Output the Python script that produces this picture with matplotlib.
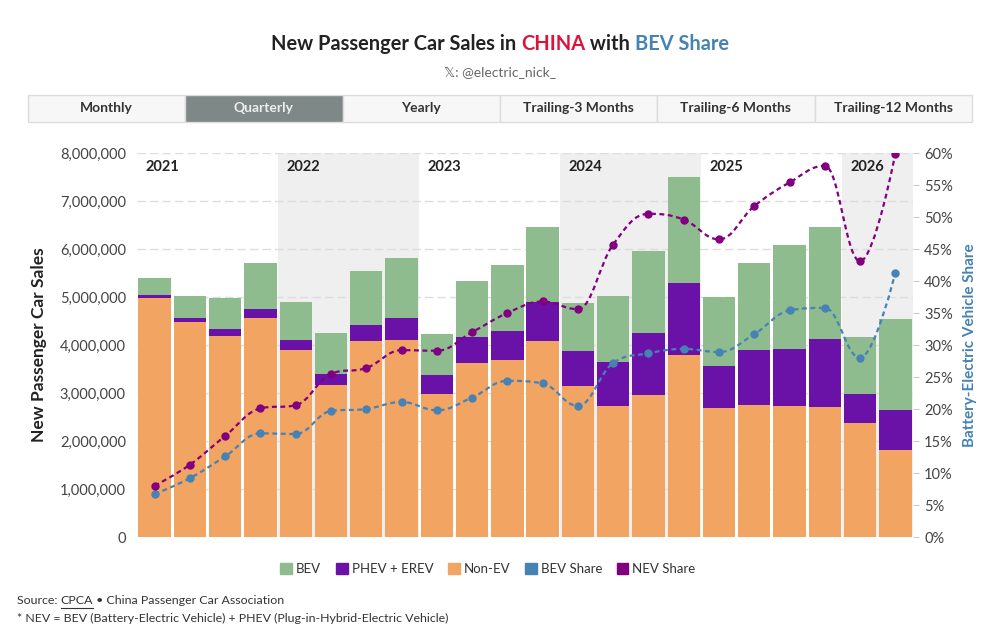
import matplotlib.pyplot as plt
from matplotlib.patches import Patch, Rectangle, PathPatch
from matplotlib.path import Path
from matplotlib.lines import Line2D
from matplotlib.ticker import FuncFormatter, MultipleLocator

plt.rcParams['font.family'] = ['Lato', 'DejaVu Sans']

# quarterly sales (units)
years = ['2021', '2022', '2023', '2024', '2025', '2026']
quarters_per_year = [4, 4, 4, 4, 4, 2]

non_ev = [4970000, 4470000, 4190000, 4560000, 3890000, 3170000, 4080000, 4110000,
          2990000, 3620000, 3690000, 4090000, 3140000, 2720000, 2950000, 3790000,
          2680000, 2760000, 2720000, 2710000, 2370000, 1810000]
phev = [70000, 90000, 140000, 200000, 210000, 230000, 340000, 460000,
        390000, 540000, 600000, 810000, 735000, 920000, 1290000, 1500000,
        880000, 1140000, 1200000, 1420000, 620000, 840000]
bev = [360000, 460000, 640000, 940000, 800000, 860000, 1120000, 1240000,
       850000, 1170000, 1380000, 1560000, 1005000, 1380000, 1710000, 2220000,
       1450000, 1800000, 2160000, 2320000, 1180000, 1890000]

# shares (%)
bev_share = [6.7, 9.2, 12.6, 16.2, 16.1, 19.7, 20.0, 21.1, 19.8, 21.8, 24.4, 24.0,
             20.5, 27.2, 28.7, 29.4, 28.9, 31.7, 35.4, 35.8, 28.0, 41.3]
nev_share = [8.0, 11.3, 15.8, 20.1, 20.6, 25.5, 26.4, 29.2, 29.1, 32.0, 35.0, 36.8,
             35.6, 45.7, 50.5, 49.6, 46.5, 51.7, 55.4, 58.0, 43.1, 59.9]

c_bev = '#8fbc8f'
c_phev = '#6a12a8'
c_ice = '#f2a462'
c_bev_line = '#4682b4'
c_nev_line = '#800080'


def spline_path(xs, ys, s=1.5):
    n = len(xs)
    lc = [None] * n
    rc = [None] * n
    for i in range(1, n - 1):
        x, y = xs[i], ys[i]
        px, py = xs[i - 1], ys[i - 1]
        nx, ny = xs[i + 1], ys[i + 1]
        lx, ly = (s * x + px) / (s + 1), (s * y + py) / (s + 1)
        rx, ry = (s * x + nx) / (s + 1), (s * y + ny) / (s + 1)
        corr = (ry - ly) * (rx - x) / (rx - lx) + y - ry
        ly += corr
        ry += corr
        if ly > py and ly > y:
            ly = max(py, y); ry = 2 * y - ly
        elif ly < py and ly < y:
            ly = min(py, y); ry = 2 * y - ly
        if ry > ny and ry > y:
            ry = max(ny, y); ly = 2 * y - ry
        elif ry < ny and ry < y:
            ry = min(ny, y); ly = 2 * y - ry
        lc[i] = (lx, ly)
        rc[i] = (rx, ry)
    verts = [(xs[0], ys[0])]
    codes = [Path.MOVETO]
    for i in range(1, n):
        verts += [rc[i - 1] or (xs[i - 1], ys[i - 1]), lc[i] or (xs[i], ys[i]), (xs[i], ys[i])]
        codes += [Path.CURVE4] * 3
    return Path(verts, codes)


fig = plt.figure(figsize=(10, 6.41), dpi=100)
ax = fig.add_axes([0.137, 0.1622, 0.776, 0.5991])
ax2 = ax.twinx()

x = list(range(len(non_ev)))
n = len(x)
ax.set_xlim(-0.5, n - 0.5)
ax.set_ylim(0, 8000000)
ax2.set_ylim(0, 60)

# year bands
start = 0
for i, (yr, q) in enumerate(zip(years, quarters_per_year)):
    if i % 2 == 1:
        ax.axvspan(start - 0.5, start + q - 0.5, color='#efefef', zorder=0, lw=0)
    ax.text(start - 0.27, 7710000, yr, fontsize=10.5, fontweight='bold', color='#222',
            ha='left', va='center', zorder=5)
    start += q

ax.yaxis.set_major_locator(MultipleLocator(1000000))
ax.grid(axis='y', color='#dddddd', linestyle=(0, (6, 3)), lw=1, zorder=1)
ax.set_axisbelow(True)

w = 0.92
ax.bar(x, non_ev, width=w, color=c_ice, zorder=2, lw=0)
ax.bar(x, phev, width=w, bottom=non_ev, color=c_phev, zorder=2, lw=0)
ax.bar(x, bev, width=w, bottom=[a + b for a, b in zip(non_ev, phev)], color=c_bev, zorder=2, lw=0)

for ys, col in [(bev_share, c_bev_line), (nev_share, c_nev_line)]:
    ax2.add_patch(PathPatch(spline_path(x, ys), fill=False, edgecolor=col, lw=1.6,
                            linestyle=(0, (2.2, 1.6)), zorder=4))
    ax2.plot(x, ys, 'o', color=col, markersize=5, linestyle='none', zorder=5)

ax.yaxis.set_major_formatter(FuncFormatter(lambda v, p: f'{v:,.0f}'))
ax2.yaxis.set_major_locator(MultipleLocator(5))
ax2.yaxis.set_major_formatter(FuncFormatter(lambda v, p: f'{v:.0f}%'))
ax.set_xticks([])
for a in (ax, ax2):
    for sp in a.spines.values():
        sp.set_visible(False)
ax.tick_params(axis='y', length=0, labelsize=10.5, labelcolor='#444', pad=8)
ax2.tick_params(axis='y', length=4, color='#cccccc', labelsize=10.5, labelcolor='#444', pad=4)

ax.set_ylabel('New Passenger Car Sales', fontsize=12.5, fontweight='bold', color='#222', labelpad=9)
ax2.set_ylabel('Battery-Electric Vehicle Share', fontsize=11, fontweight='bold',
               color=c_bev_line, labelpad=7)

# legend
handles = [Patch(color=c_bev, label='BEV'), Patch(color=c_phev, label='PHEV + EREV'),
           Patch(color=c_ice, label='Non-EV'), Patch(color=c_bev_line, label='BEV Share'),
           Patch(color=c_nev_line, label='NEV Share')]
fig.legend(handles=handles, loc='center', bbox_to_anchor=(0.488, 0.112), ncol=5, frameon=False,
           fontsize=9.5, labelcolor='#333', handlelength=0.9, handleheight=0.9,
           handletextpad=0.3, columnspacing=1.1)

# buttons
labels = ['Monthly', 'Quarterly', 'Yearly', 'Trailing-3 Months', 'Trailing-6 Months', 'Trailing-12 Months']
bx0, bx1 = 28 / 1000, 972 / 1000
bw = (bx1 - bx0) / len(labels)
by0, bh = 1 - 122 / 641, 27 / 641
for i, lab in enumerate(labels):
    active = lab == 'Quarterly'
    fig.add_artist(Rectangle((bx0 + i * bw, by0), bw, bh, transform=fig.transFigure,
                             facecolor='#7d8887' if active else '#f7f7f7',
                             edgecolor='#dcdcdc', lw=1))
    fig.text(bx0 + (i + 0.5) * bw, by0 + bh / 2, lab, ha='center', va='center',
             fontsize=10, fontweight='bold', color='#eeeeee' if active else '#333')

# title with coloured runs
fig.canvas.draw()
r = fig.canvas.get_renderer()
runs = [('New Passenger Car Sales in ', '#222'), ('CHINA', '#dc143c'),
        (' with ', '#222'), ('BEV Share', c_bev_line)]
objs = [fig.text(0, 1 - 44 / 641, t, color=c, fontsize=14.4, fontweight='bold', va='center')
        for t, c in runs]
widths = [o.get_window_extent(r).width / fig.bbox.width for o in objs]
xpos = 0.5 - sum(widths) / 2
for o, wd in zip(objs, widths):
    o.set_x(xpos)
    xpos += wd

fig.text(0.5, 1 - 72 / 641, '\U0001D54F: @electric_nick_', ha='center', va='center',
         fontsize=10, color='#666')

# footer
fs = 8.9
fy = 1 - 601 / 641
parts = ['Source: ', 'CPCA', ' \u2022 China Passenger Car Association']
fx = 17 / 1000
for j, t in enumerate(parts):
    o = fig.text(fx, fy, t, fontsize=fs, color='#333', va='center')
    bb = o.get_window_extent(r)
    if j == 1:
        fig.add_artist(Line2D([bb.x0 / 1000, bb.x1 / 1000], [(bb.y0 - 1) / 641] * 2,
                              transform=fig.transFigure, color='#333', lw=0.8))
    fx += bb.width / 1000
fig.text(17 / 1000, 1 - 618 / 641,
         '* NEV = BEV (Battery-Electric Vehicle) + PHEV (Plug-in-Hybrid-Electric Vehicle)',
         fontsize=fs, color='#333', va='center')

fig.savefig('out.png', dpi=100, facecolor='white')
